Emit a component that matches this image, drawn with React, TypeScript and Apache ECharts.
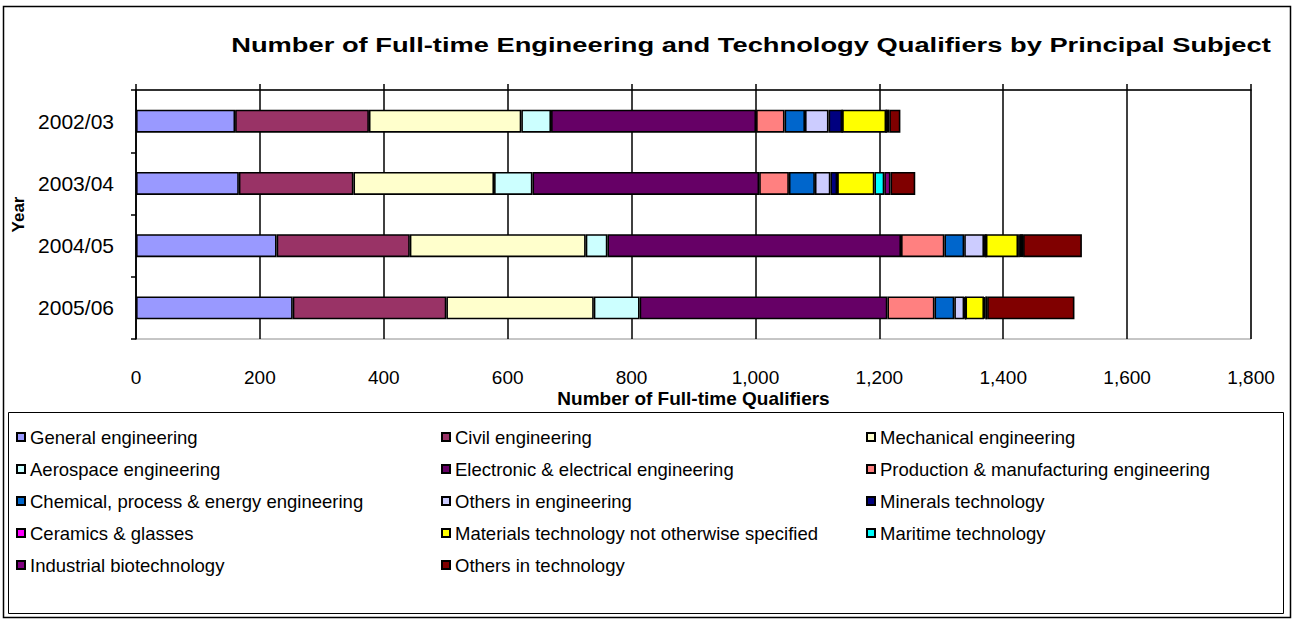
import React, { useEffect, useRef } from "react";
import * as echarts from "echarts";

const years = ["2002/03", "2003/04", "2004/05", "2005/06"];
const subjects = [
  "General engineering",
  "Civil engineering",
  "Mechanical engineering",
  "Aerospace engineering",
  "Electronic & electrical engineering",
  "Production & manufacturing engineering",
  "Chemical, process & energy engineering",
  "Others in engineering",
  "Minerals technology",
  "Ceramics & glasses",
  "Materials technology not otherwise specified",
  "Maritime technology",
  "Industrial biotechnology",
  "Others in technology",
];
const general = [160, 166, 227, 253];
const civil = [216, 185, 215, 248];
const mechanical = [246, 227, 284, 238];
const aerospace = [48, 62, 35, 74];
const electronic = [331, 366, 474, 400];
const production = [46, 48, 70, 76];
const chemical = [33, 42, 32, 32];
const othersEng = [38, 25, 32, 16];
const minerals = [22, 11, 3, 2];
const ceramics = [0, 0, 0, 0];
const materials = [71, 60, 52, 30];
const maritime = [0, 16, 3, 2];
const biotech = [5, 10, 5, 3];
const othersTech = [18, 40, 95, 141];
const seriesValues = [
  general, civil, mechanical, aerospace, electronic, production, chemical,
  othersEng, minerals, ceramics, materials, maritime, biotech, othersTech,
];
const colors = [
  "#9999FF", "#993366", "#FFFFCC", "#CCFFFF", "#660066", "#FF8080", "#0066CC",
  "#CCCCFF", "#000080", "#FF00FF", "#FFFF00", "#00FFFF", "#800080", "#800000",
];
const xTicks = [0, 200, 400, 600, 800, 1000, 1200, 1400, 1600, 1800];
const titleText = "Number of Full-time Engineering and Technology Qualifiers by Principal Subject";

const FONT = "'Liberation Sans', Arial, sans-serif";

export default function App() {
  const ref = useRef<HTMLDivElement>(null);
  useEffect(() => {
    if (!ref.current) return;
    const chart = echarts.init(ref.current, null, { renderer: "svg" });
    const xMin = xTicks[0];
    const xMax = xTicks[xTicks.length - 1];
    const xInterval = xTicks[1] - xTicks[0];
    chart.setOption({
      animation: false,
      backgroundColor: "#fff",
      textStyle: { fontFamily: FONT },
      grid: {
        left: 136,
        right: 44,
        top: 90,
        bottom: 282,
        show: true,
        borderColor: "#8c8c8c",
        borderWidth: 1,
        containLabel: false,
      },
      legend: {
        left: 16,
        top: 421,
        width: 1275,
        padding: 0,
        itemGap: 0,
        itemWidth: 8,
        itemHeight: 8,
        icon: "rect",
        data: subjects,
        textStyle: {
          fontFamily: FONT,
          fontSize: 18.5,
          color: "#000",
          width: 411,
          lineHeight: 32,
          overflow: "truncate",
        },
      },
      xAxis: [
        {
          type: "value",
          position: "top",
          min: xMin,
          max: xMax,
          interval: xInterval,
          axisLine: { show: true, lineStyle: { color: "#000", width: 1.5 } },
          axisTick: { show: true, inside: false, length: 6, lineStyle: { color: "#000", width: 1.5 } },
          axisLabel: { show: false },
          splitLine: { show: false },
        },
        {
          type: "value",
          position: "bottom",
          min: xMin,
          max: xMax,
          interval: xInterval,
          name: "Number of Full-time Qualifiers",
          nameLocation: "middle",
          nameGap: 50,
          nameTextStyle: { fontFamily: FONT, fontSize: 19, fontWeight: "bold", color: "#000" },
          axisLine: { show: false },
          axisTick: { show: false },
          axisLabel: {
            fontFamily: FONT,
            fontSize: 19,
            color: "#000",
            margin: 29,
            formatter: (v: number) => v.toLocaleString("en-US"),
          },
          splitLine: { show: true, lineStyle: { color: "#000", width: 1.5 } },
        },
      ],
      yAxis: {
        type: "category",
        data: years,
        inverse: true,
        name: "Year",
        nameLocation: "middle",
        nameGap: 108,
        nameTextStyle: { fontFamily: FONT, fontSize: 17, fontWeight: "bold", color: "#000" },
        axisLine: { show: true, lineStyle: { color: "#000", width: 1.5 } },
        axisTick: { show: true, length: 5, lineStyle: { color: "#000", width: 1.5 } },
        axisLabel: { fontFamily: FONT, fontSize: 21, color: "#000", margin: 22 },
        splitLine: { show: false },
      },
      series: subjects.map((name, i) => ({
        name,
        type: "bar",
        stack: "total",
        xAxisIndex: 1,
        barWidth: 23,
        data: seriesValues[i],
        itemStyle: { color: colors[i], borderColor: "#000", borderWidth: 1.6 },
      })),
      graphic: [
        {
          type: "text",
          x: 751,
          y: 45,
          scaleX: 1.3,
          silent: true,
          style: {
            x: 0,
            y: 0,
            text: titleText,
            font: "bold 21px 'Liberation Sans', Arial, sans-serif",
            fill: "#000",
            textAlign: "center",
            textVerticalAlign: "middle",
          },
        },
        {
          type: "rect",
          shape: { x: 8.5, y: 412.5, width: 1275, height: 201 },
          style: { fill: "none", stroke: "#000", lineWidth: 1 },
          silent: true,
        },
        {
          type: "rect",
          shape: { x: 3.5, y: 6.5, width: 1287, height: 611 },
          style: { fill: "none", stroke: "#000", lineWidth: 1.5 },
          silent: true,
        },
      ],
    });
    return () => chart.dispose();
  }, []);
  return (
    <div
      ref={ref}
      style={{ position: "absolute", left: 0, top: 0, width: 1295, height: 621 }}
    />
  );
}
